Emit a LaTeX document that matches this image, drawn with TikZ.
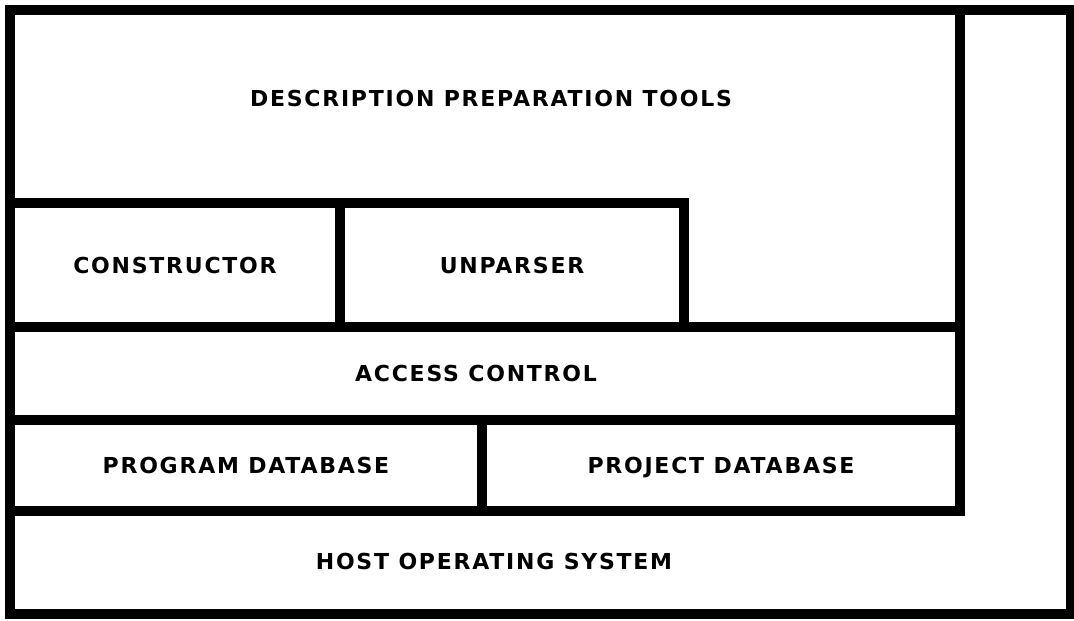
\documentclass[tikz,border=0pt]{standalone}
\usepackage{fontspec}
\newfontfamily\layerfont[LetterSpace=8]{DejaVu Sans}
\usepackage{tikz}
\usetikzlibrary{positioning}

\begin{document}
\begin{tikzpicture}[x=1pt,y=-1pt,
  wall/.style={line width=9.5pt,draw=black},
  cell/.style={rectangle,wall,inner sep=0pt,text height=16pt,text depth=0pt,font=\layerfont\bfseries\fontsize{22}{26}\selectfont},
  tag/.style={inner sep=0pt,text height=16pt,text depth=0pt,font=\layerfont\bfseries\fontsize{22}{26}\selectfont}]
\useasboundingbox (0,0) rectangle (1074,621);
\fill[white] (0,0) rectangle (1074,621);

\draw[wall] (10,10) rectangle (1071,614);
\draw[wall] (10,10) rectangle (960,511);

\node(constructor)[cell,minimum width=330pt,minimum height=124pt] at (175,265) {CONSTRUCTOR};
\node(unparser)[cell,minimum width=344pt,minimum height=124pt] at (512,265) {UNPARSER};
\node(access)[cell,minimum width=950pt,minimum height=93pt] at (485,373.5) {\hspace*{-18pt}ACCESS CONTROL};
\node(program)[cell,minimum width=472pt,minimum height=91pt] at (246,465.5) {PROGRAM DATABASE};
\node(project)[cell,minimum width=478pt,minimum height=91pt] at (721,465.5) {PROJECT DATABASE};

\node(tools)[tag] at (491,98) {DESCRIPTION PREPARATION TOOLS};
\node(host)[tag] at (494,561) {HOST OPERATING SYSTEM};
\end{tikzpicture}
\end{document}
